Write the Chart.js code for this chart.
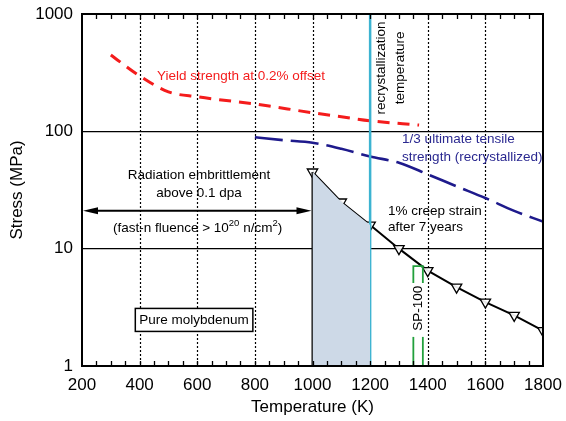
<!DOCTYPE html>
<html>
<head>
<meta charset="utf-8">
<script src="https://cdn.jsdelivr.net/npm/chart.js@4.4.1/dist/chart.umd.min.js"></script>
<style>
  html, body { margin: 0; padding: 0; background: #fff; }
  #wrap { width: 566px; height: 421px; }
</style>
</head>
<body>
<div id="wrap"><canvas id="chart" width="566" height="421"></canvas></div>
<script>
// creep curve: 1% creep strain after 7 years
const creepTemps = [1000, 1100, 1200, 1300, 1400, 1500, 1600, 1700, 1800];
const creepStress = [45, 25, 15.9, 10, 6.5, 4.7, 3.5, 2.7, 2.0];

// yield strength at 0.2% offset
const yieldTemps = [300, 400, 500, 600, 800, 1000, 1100, 1200, 1370];
const yieldStress = [448, 297, 217, 197, 171, 144, 133, 123, 113];

// 1/3 ultimate tensile strength (recrystallized)
const utsTemps = [800, 900, 1000, 1100, 1200, 1300, 1400, 1500, 1600, 1700, 1800];
const utsStress = [89, 84, 80, 71, 61, 54, 43, 34, 27, 21, 17];

const embrittleTemp = 1000;
const recrystTemp = 1200;
const arrowStress = 21;
const sp100Temps = [1350, 1383];
const sp100Top = 7.1;
const sp100Gap = [1.77, 5.1];

const xTicks = [200, 400, 600, 800, 1000, 1200, 1400, 1600, 1800];
const yTicks = [1, 10, 100, 1000];
const dottedAt = [400, 600, 800, 1000, 1400, 1600];

const FONT = "'Liberation Sans', Arial, Helvetica, sans-serif";

const pts = (xs, ys) => xs.map((x, i) => ({ x: x, y: ys[i] }));

const shadeData = pts(creepTemps, creepStress).filter(p => p.x <= recrystTemp);

function segment(data, color, width) {
    return { data: data, showLine: true, borderColor: color, borderWidth: width, pointRadius: 0 };
}

function noPad(s) {
    s.paddingTop = 0;
    s.paddingBottom = 0;
    s.paddingLeft = 0;
    s.paddingRight = 0;
}

const annotations = {
    id: "annotations",
    beforeDatasetsDraw(chart) {
        const { ctx, chartArea: a, scales: { x } } = chart;
        ctx.save();
        ctx.strokeStyle = "#000";
        ctx.lineWidth = 1.2;
        ctx.setLineDash([2, 2]);
        dottedAt.forEach(t => {
            const px = Math.round(x.getPixelForValue(t)) + 0.5;
            ctx.beginPath();
            ctx.moveTo(px, a.top);
            ctx.lineTo(px, a.bottom);
            ctx.stroke();
        });
        ctx.restore();
    },
    afterDatasetsDraw(chart) {
        const { ctx, chartArea: a, scales: { x, y } } = chart;
        const px = v => x.getPixelForValue(v);
        const py = v => y.getPixelForValue(v);
        ctx.save();

        // double arrow
        const ay = py(arrowStress);
        const x0 = a.left + 1, x1 = px(embrittleTemp) - 1;
        ctx.strokeStyle = "#000";
        ctx.fillStyle = "#000";
        ctx.lineWidth = 2;
        ctx.beginPath();
        ctx.moveTo(x0 + 8, ay);
        ctx.lineTo(x1 - 8, ay);
        ctx.stroke();
        [[x0, 1], [x1, -1]].forEach(([tx, d]) => {
            ctx.beginPath();
            ctx.moveTo(tx, ay);
            ctx.lineTo(tx + d * 15, ay - 3.5);
            ctx.lineTo(tx + d * 15, ay + 3.5);
            ctx.closePath();
            ctx.fill();
        });

        // texts
        const txt = (s, tx, ty, color, align) => {
            ctx.fillStyle = color || "#000";
            ctx.textAlign = align || "center";
            ctx.textBaseline = "middle";
            ctx.fillText(s, tx, ty);
        };
        ctx.font = "13.5px " + FONT;
        txt("Yield strength at 0.2% offset", px(460), py(297), "#f41c1c", "left");
        txt("1/3 ultimate tensile", px(1311), py(86), "#2a2890", "left");
        txt("strength (recrystallized)", px(1311), py(60.5), "#2a2890", "left");
        txt("Radiation embrittlement", px(606), py(42.5));
        txt("above 0.1 dpa", px(606), py(29.8));
        txt("1% creep strain", px(1262), py(21), "#000", "left");
        txt("after 7 years", px(1262), py(15.3), "#000", "left");

        // fluence with superscripts
        const parts = [["(fast-n fluence > 10", false], ["20", true], [" n/cm", false], ["2", true], [")", false]];
        const big = "13.5px " + FONT, small = "9.5px " + FONT;
        let w = 0;
        parts.forEach(([s, sup]) => { ctx.font = sup ? small : big; w += ctx.measureText(s).width; });
        let cx = px(601) - w / 2;
        const cy = py(15);
        parts.forEach(([s, sup]) => {
            ctx.font = sup ? small : big;
            ctx.fillStyle = "#000";
            ctx.textAlign = "left";
            ctx.textBaseline = "middle";
            ctx.fillText(s, cx, sup ? cy - 5 : cy);
            cx += ctx.measureText(s).width;
        });

        // boxed label
        ctx.font = "13.5px " + FONT;
        const bx = px(589), by = py(2.47);
        const bw = ctx.measureText("Pure molybdenum").width + 8;
        ctx.fillStyle = "#fff";
        ctx.fillRect(bx - bw / 2, by - 11.5, bw, 23);
        ctx.strokeStyle = "#000";
        ctx.lineWidth = 1.5;
        ctx.strokeRect(bx - bw / 2, by - 11.5, bw, 23);
        txt("Pure molybdenum", bx, by);

        // rotated texts
        const rot = (s, tx, ty, color) => {
            ctx.save();
            ctx.translate(tx, ty);
            ctx.rotate(-Math.PI / 2);
            txt(s, 0, 0, color);
            ctx.restore();
        };
        rot("recrystallization", px(1238), py(347));
        rot("temperature", px(1304), py(347));
        rot("SP-100", px((sp100Temps[0] + sp100Temps[1]) / 2), py(3.1));

        // minor ticks on top and bottom
        ctx.strokeStyle = "#000";
        ctx.lineWidth = 1.3;
        for (let t = 250; t < 1800; t += 50) {
            const tx = Math.round(px(t)) + 0.5;
            ctx.beginPath();
            ctx.moveTo(tx, a.bottom);
            ctx.lineTo(tx, a.bottom - 5);
            ctx.moveTo(tx, a.top);
            ctx.lineTo(tx, a.top + 5);
            ctx.stroke();
        }

        // frame
        ctx.lineWidth = 2;
        ctx.strokeRect(a.left, a.top, a.right - a.left, a.bottom - a.top);
        ctx.restore();
    }
};

new Chart(document.getElementById("chart"), {
    type: "scatter",
    data: {
        datasets: [
            {
                data: shadeData,
                showLine: true,
                borderWidth: 0,
                borderColor: "rgba(0,0,0,0)",
                backgroundColor: "#cdd9e7",
                fill: "start",
                pointRadius: 0
            },
            segment([{ x: embrittleTemp, y: 1 }, { x: embrittleTemp, y: creepStress[0] }], "#000", 2),
            segment([{ x: recrystTemp, y: 1 }, { x: recrystTemp, y: 1000 }], "#3cb3d1", 2.5),
            segment([{ x: sp100Temps[0], y: 1 }, { x: sp100Temps[0], y: sp100Gap[0] }], "#22a03c", 1.8),
            segment([{ x: sp100Temps[1], y: 1 }, { x: sp100Temps[1], y: sp100Gap[0] }], "#22a03c", 1.8),
            segment([
                { x: sp100Temps[0], y: sp100Gap[1] }, { x: sp100Temps[0], y: sp100Top },
                { x: sp100Temps[1], y: sp100Top }, { x: sp100Temps[1], y: sp100Gap[1] }
            ], "#22a03c", 1.8),
            {
                data: pts(yieldTemps, yieldStress),
                showLine: true,
                borderColor: "#f41c1c",
                borderWidth: 3,
                borderDash: [12, 8],
                cubicInterpolationMode: "monotone",
                pointRadius: 0
            },
            {
                data: pts(utsTemps, utsStress),
                showLine: true,
                borderColor: "#1e1a8c",
                borderWidth: 2.6,
                borderDash: [28, 8],
                cubicInterpolationMode: "monotone",
                pointRadius: 0
            },
            {
                data: pts(creepTemps, creepStress),
                showLine: true,
                borderColor: "#000",
                borderWidth: 2,
                pointStyle: "triangle",
                rotation: 180,
                pointRadius: 6,
                pointBorderWidth: 1.3,
                pointBackgroundColor: "rgba(255,255,255,0.9)",
                pointBorderColor: "#000"
            }
        ]
    },
    options: {
        responsive: false,
        animation: false,
        layout: { padding: { top: 14, right: 23, left: 0, bottom: 0 } },
        plugins: {
            legend: { display: false },
            tooltip: { enabled: false }
        },
        scales: {
            x: {
                type: "linear",
                min: 200,
                max: 1800,
                afterFit: s => { s.height = 55; noPad(s); },
                afterBuildTicks: s => { s.ticks = xTicks.map(v => ({ value: v })); },
                grid: { display: false, drawTicks: false },
                border: { display: false },
                ticks: {
                    color: "#000",
                    padding: 9,
                    maxRotation: 0,
                    callback: v => String(v),
                    font: { family: FONT, size: 17 }
                },
                title: {
                    display: true,
                    text: "Temperature (K)",
                    color: "#000",
                    padding: { top: 0, bottom: 3 },
                    font: { family: FONT, size: 17 }
                }
            },
            y: {
                type: "logarithmic",
                min: 1,
                max: 1000,
                afterFit: s => { s.width = 82; noPad(s); },
                afterBuildTicks: s => { s.ticks = yTicks.map(v => ({ value: v })); },
                grid: {
                    drawTicks: false,
                    lineWidth: 1.2,
                    color: c => (c.tick && (c.tick.value === 10 || c.tick.value === 100)) ? "#000" : "rgba(0,0,0,0)"
                },
                border: { display: false },
                ticks: {
                    color: "#000",
                    padding: 9,
                    callback: v => String(v),
                    font: { family: FONT, size: 17 }
                },
                title: {
                    display: true,
                    text: "Stress (MPa)",
                    color: "#000",
                    padding: { top: 7, bottom: 0 },
                    font: { family: FONT, size: 17 }
                }
            }
        }
    },
    plugins: [annotations]
});
</script>
</body>
</html>
